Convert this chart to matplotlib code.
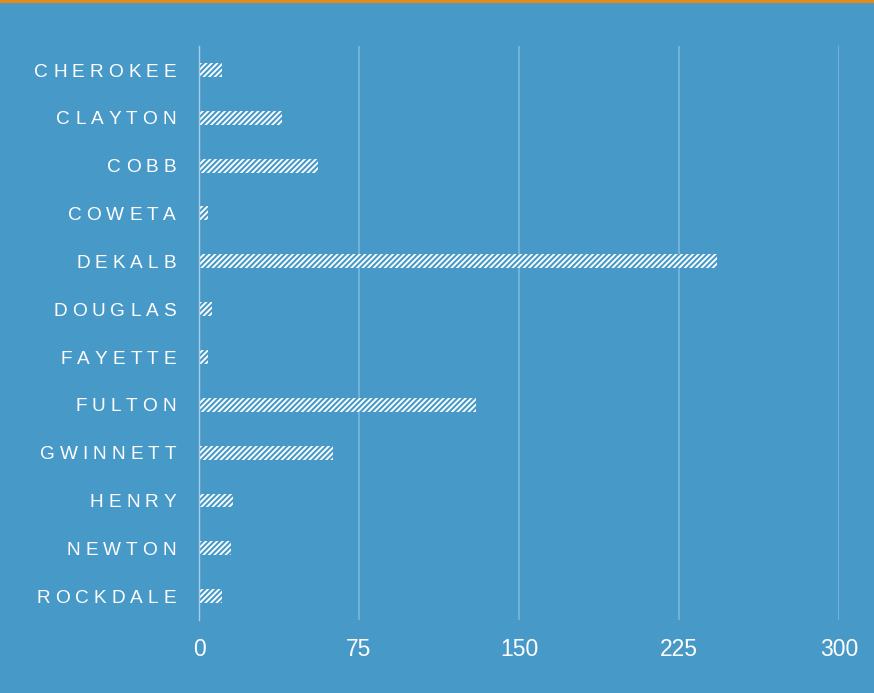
import matplotlib.pyplot as plt
from matplotlib.textpath import TextToPath
from matplotlib.font_manager import FontProperties

# county data
counties = ["CHEROKEE", "CLAYTON", "COBB", "COWETA", "DEKALB", "DOUGLAS",
            "FAYETTE", "FULTON", "GWINNETT", "HENRY", "NEWTON", "ROCKDALE"]
values = [11, 39, 56, 4, 243, 6, 4, 130, 63, 16, 15, 11]
xticks = [0, 75, 150, 225, 300]

bg = "#4799c8"
grid_c = "#7fb6da"
plt.rcParams['hatch.linewidth'] = 1.5

fig = plt.figure(figsize=(8.74, 6.93), dpi=100, facecolor=bg)
ax = fig.add_axes([0.2277, 0.1053, 0.7323, 0.8283])
ax.set_facecolor(bg)

ypos = list(range(len(counties)))
ax.barh(ypos, values, height=0.29, color="white", edgecolor=bg,
        hatch="//////", linewidth=0, zorder=3)

ax.set_xlim(0, 300)
ax.set_ylim(len(counties) - 0.5, -0.5)
ax.set_xticks(xticks)
ax.set_xticklabels([str(t) for t in xticks], color="white", fontsize=16.5,
                   family="Liberation Sans")
ax.tick_params(axis="x", length=0, pad=13)
ax.tick_params(axis="y", length=0)
ax.set_yticks([])
ax.grid(axis="x", color=grid_c, linewidth=1.2, zorder=0)
for s in ["top", "right", "bottom"]:
    ax.spines[s].set_visible(False)
ax.spines["left"].set_color("#a9cde6")
ax.spines["left"].set_linewidth(1)
ax.spines["left"].set_zorder(4)

# letter-spaced county labels, drawn one character at a time from the right
fp = FontProperties(family="Liberation Sans", size=13.7)
ttp = TextToPath()
track = 3.6  # points
for y, name in zip(ypos, counties):
    off = -16.5
    for ch in reversed(name):
        w = ttp.get_text_width_height_descent(ch, fp, ismath=False)[0]
        ax.annotate(ch, xy=(0, y), xycoords=("axes fraction", "data"),
                    xytext=(off, -1.6), textcoords="offset points",
                    ha="right", va="center", color="white",
                    fontproperties=fp)
        off -= w + track

# orange line at top edge
fig.add_artist(plt.Line2D([0, 1], [0.998, 0.998], color="#e08a1a",
                          linewidth=3, transform=fig.transFigure))

fig.savefig("out.png", dpi=100, facecolor=bg)
